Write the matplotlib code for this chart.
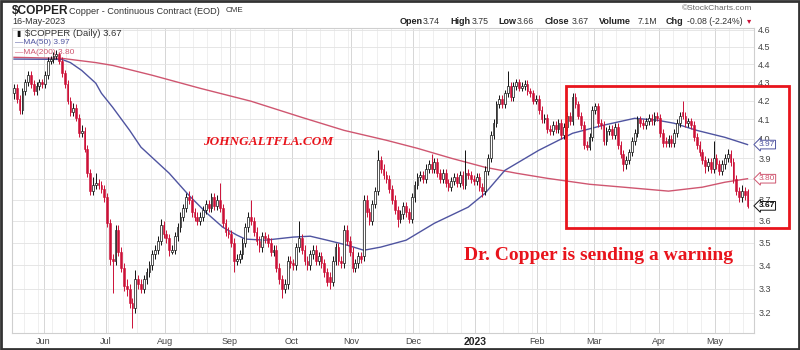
import numpy as np
import pandas as pd
import matplotlib
matplotlib.use("Agg")
import matplotlib.pyplot as plt
from matplotlib.patches import Rectangle
from matplotlib.ticker import FixedLocator, NullLocator

# --- daily candles, 17-May-2022 .. 16-May-2023 ---
dates = pd.bdate_range("2022-05-17", "2023-05-16")

close = [
    4.27, 4.21, 4.15, 4.25, 4.30, 4.34, 4.29, 4.25, 4.28, 4.30,
    4.29, 4.34, 4.42, 4.43, 4.45, 4.46, 4.42, 4.35, 4.29, 4.20,
    4.14, 4.16, 4.11, 4.03, 4.04, 3.95, 3.83, 3.74, 3.77, 3.78,
    3.77, 3.75, 3.71, 3.59, 3.43, 3.42, 3.56, 3.46, 3.39, 3.31,
    3.30, 3.24, 3.22, 3.34, 3.32, 3.30, 3.34, 3.37, 3.40, 3.45,
    3.47, 3.51, 3.58, 3.54, 3.52, 3.47, 3.47, 3.53, 3.57, 3.62,
    3.66, 3.71, 3.70, 3.64, 3.62, 3.60, 3.62, 3.65, 3.68, 3.66,
    3.71, 3.67, 3.70, 3.66, 3.59, 3.55, 3.54, 3.50, 3.42, 3.43,
    3.45, 3.50, 3.57, 3.62, 3.60, 3.55, 3.51, 3.48, 3.53, 3.52,
    3.50, 3.46, 3.47, 3.39, 3.34, 3.30, 3.32, 3.42, 3.41, 3.40,
    3.48, 3.52, 3.47, 3.42, 3.40, 3.45, 3.47, 3.42, 3.44, 3.41,
    3.37, 3.33, 3.33, 3.42, 3.48, 3.42, 3.41, 3.56, 3.51, 3.46,
    3.39, 3.41, 3.44, 3.43, 3.70, 3.64, 3.60, 3.68, 3.74, 3.89,
    3.85, 3.82, 3.80, 3.75, 3.70, 3.65, 3.61, 3.63, 3.67, 3.64,
    3.61, 3.71, 3.77, 3.81, 3.82, 3.80, 3.85, 3.87, 3.85, 3.88,
    3.83, 3.80, 3.83, 3.78, 3.76, 3.79, 3.81, 3.78, 3.82, 3.77,
    3.83, 3.82, 3.80, 3.79, 3.81, 3.76, 3.74, 3.84, 3.90, 4.02,
    4.08, 4.18, 4.21, 4.18, 4.24, 4.28, 4.22, 4.28, 4.30, 4.27,
    4.28, 4.29, 4.25, 4.24, 4.20, 4.21, 4.15, 4.10, 4.11, 4.05,
    4.04, 4.07, 4.05, 4.08, 4.02, 4.06, 4.12, 4.09, 4.22, 4.18,
    4.12, 4.07, 3.97, 3.96, 4.01, 4.15, 4.17, 4.08, 4.07, 3.99,
    4.04, 4.05, 4.02, 4.06, 3.97, 3.92, 3.87, 3.89, 3.93, 3.99,
    4.03, 4.10, 4.08, 4.07, 4.09, 4.11, 4.09, 4.12, 4.11, 4.03,
    3.98, 3.98, 4.00, 3.98, 4.03, 4.08, 4.12, 4.12, 4.08, 4.09,
    4.07, 4.01, 3.97, 3.93, 3.89, 3.86, 3.88, 3.85, 3.90, 3.87,
    3.84, 3.87, 3.90, 3.92, 3.88, 3.80, 3.74, 3.71, 3.74, 3.72, 3.67,
]

opens = [
    4.24, 4.27, 4.21, 4.15, 4.25, 4.30, 4.34, 4.29, 4.25, 4.28,
    4.30, 4.29, 4.34, 4.42, 4.43, 4.45, 4.46, 4.42, 4.35, 4.29,
    4.20, 4.14, 4.16, 4.11, 4.03, 4.04, 3.95, 3.83, 3.74, 3.77,
    3.78, 3.77, 3.75, 3.71, 3.59, 3.43, 3.42, 3.56, 3.46, 3.39,
    3.31, 3.30, 3.24, 3.22, 3.34, 3.32, 3.30, 3.34, 3.37, 3.40,
    3.45, 3.47, 3.51, 3.58, 3.54, 3.52, 3.46, 3.47, 3.53, 3.57,
    3.62, 3.66, 3.71, 3.70, 3.64, 3.62, 3.60, 3.62, 3.65, 3.68,
    3.66, 3.71, 3.67, 3.70, 3.66, 3.59, 3.55, 3.54, 3.50, 3.42,
    3.43, 3.45, 3.50, 3.57, 3.62, 3.60, 3.55, 3.51, 3.48, 3.53,
    3.52, 3.50, 3.46, 3.47, 3.39, 3.34, 3.30, 3.32, 3.42, 3.41,
    3.40, 3.48, 3.52, 3.47, 3.42, 3.40, 3.45, 3.47, 3.42, 3.44,
    3.41, 3.37, 3.35, 3.33, 3.42, 3.48, 3.42, 3.41, 3.56, 3.51,
    3.46, 3.39, 3.41, 3.44, 3.44, 3.70, 3.64, 3.60, 3.68, 3.74,
    3.89, 3.85, 3.82, 3.80, 3.75, 3.70, 3.65, 3.61, 3.63, 3.67,
    3.64, 3.61, 3.71, 3.77, 3.81, 3.82, 3.80, 3.85, 3.87, 3.85,
    3.88, 3.83, 3.80, 3.83, 3.78, 3.76, 3.79, 3.81, 3.78, 3.82,
    3.77, 3.83, 3.82, 3.80, 3.79, 3.81, 3.76, 3.74, 3.84, 3.90,
    4.02, 4.08, 4.18, 4.21, 4.18, 4.24, 4.28, 4.22, 4.28, 4.30,
    4.27, 4.28, 4.29, 4.25, 4.24, 4.20, 4.21, 4.15, 4.10, 4.11,
    4.05, 4.04, 4.07, 4.05, 4.08, 4.02, 4.06, 4.12, 4.09, 4.22,
    4.18, 4.12, 4.07, 3.97, 3.96, 4.01, 4.15, 4.17, 4.08, 4.07,
    3.99, 4.04, 4.05, 4.02, 4.06, 3.97, 3.92, 3.87, 3.89, 3.93,
    3.99, 4.03, 4.10, 4.08, 4.07, 4.09, 4.11, 4.09, 4.12, 4.11,
    4.03, 3.99, 3.98, 4.00, 3.98, 4.03, 4.08, 4.14, 4.12, 4.08,
    4.09, 4.07, 4.01, 3.97, 3.93, 3.89, 3.86, 3.88, 3.85, 3.90,
    3.87, 3.84, 3.87, 3.90, 3.92, 3.88, 3.80, 3.74, 3.71, 3.74, 3.74,
]

high = [
    4.29, 4.29, 4.23, 4.27, 4.32, 4.36, 4.36, 4.31, 4.30, 4.32,
    4.32, 4.36, 4.44, 4.45, 4.47, 4.48, 4.47, 4.44, 4.37, 4.31,
    4.22, 4.19, 4.18, 4.13, 4.07, 4.06, 3.97, 3.85, 3.81, 3.83,
    3.80, 3.79, 3.77, 3.73, 3.61, 3.45, 3.58, 3.58, 3.48, 3.41,
    3.34, 3.32, 3.26, 3.38, 3.36, 3.34, 3.36, 3.39, 3.42, 3.47,
    3.49, 3.53, 3.61, 3.60, 3.56, 3.54, 3.49, 3.55, 3.59, 3.64,
    3.68, 3.73, 3.74, 3.72, 3.66, 3.64, 3.64, 3.67, 3.70, 3.70,
    3.73, 3.73, 3.72, 3.78, 3.68, 3.61, 3.57, 3.56, 3.52, 3.45,
    3.47, 3.52, 3.59, 3.64, 3.70, 3.62, 3.57, 3.53, 3.55, 3.55,
    3.54, 3.52, 3.49, 3.49, 3.41, 3.36, 3.34, 3.44, 3.44, 3.43,
    3.50, 3.60, 3.54, 3.49, 3.44, 3.47, 3.49, 3.49, 3.46, 3.46,
    3.43, 3.39, 3.37, 3.44, 3.50, 3.50, 3.44, 3.58, 3.58, 3.53,
    3.48, 3.43, 3.46, 3.46, 3.72, 3.72, 3.66, 3.70, 3.76, 3.94,
    3.91, 3.87, 3.84, 3.82, 3.77, 3.72, 3.67, 3.65, 3.69, 3.69,
    3.66, 3.73, 3.79, 3.83, 3.84, 3.84, 3.87, 3.89, 3.92, 3.90,
    3.90, 3.85, 3.85, 3.85, 3.80, 3.81, 3.83, 3.83, 3.84, 3.84,
    3.94, 3.85, 3.84, 3.82, 3.83, 3.83, 3.78, 3.86, 3.92, 4.04,
    4.10, 4.20, 4.23, 4.23, 4.26, 4.36, 4.30, 4.30, 4.32, 4.32,
    4.30, 4.31, 4.31, 4.27, 4.26, 4.23, 4.23, 4.17, 4.13, 4.13,
    4.07, 4.09, 4.09, 4.10, 4.10, 4.08, 4.14, 4.14, 4.24, 4.24,
    4.20, 4.14, 4.09, 3.99, 4.03, 4.17, 4.19, 4.19, 4.10, 4.09,
    4.06, 4.07, 4.07, 4.08, 4.08, 3.99, 3.94, 3.91, 3.95, 4.01,
    4.05, 4.12, 4.12, 4.10, 4.11, 4.13, 4.13, 4.14, 4.14, 4.13,
    4.05, 4.01, 4.02, 4.02, 4.05, 4.10, 4.14, 4.20, 4.14, 4.11,
    4.11, 4.09, 4.03, 3.99, 3.95, 3.91, 3.90, 3.90, 3.99, 3.92,
    3.89, 3.89, 3.92, 3.95, 3.94, 3.90, 3.82, 3.76, 3.77, 3.76, 3.75,
]

low = [
    4.21, 4.19, 4.13, 4.13, 4.23, 4.28, 4.27, 4.23, 4.23, 4.26,
    4.27, 4.27, 4.32, 4.40, 4.41, 4.43, 4.40, 4.33, 4.27, 4.18,
    4.12, 4.12, 4.09, 4.01, 4.01, 3.93, 3.81, 3.72, 3.72, 3.75,
    3.75, 3.73, 3.69, 3.57, 3.40, 3.28, 3.40, 3.44, 3.37, 3.29,
    3.27, 3.22, 3.14, 3.20, 3.30, 3.28, 3.28, 3.32, 3.35, 3.38,
    3.43, 3.45, 3.49, 3.52, 3.50, 3.44, 3.45, 3.45, 3.51, 3.55,
    3.60, 3.64, 3.68, 3.62, 3.60, 3.58, 3.58, 3.60, 3.63, 3.64,
    3.64, 3.65, 3.65, 3.64, 3.57, 3.53, 3.52, 3.48, 3.37, 3.40,
    3.41, 3.43, 3.48, 3.55, 3.58, 3.53, 3.49, 3.46, 3.46, 3.50,
    3.48, 3.44, 3.44, 3.37, 3.32, 3.26, 3.28, 3.30, 3.39, 3.38,
    3.38, 3.46, 3.45, 3.40, 3.38, 3.38, 3.43, 3.40, 3.40, 3.39,
    3.35, 3.31, 3.30, 3.31, 3.40, 3.40, 3.39, 3.39, 3.49, 3.44,
    3.37, 3.37, 3.39, 3.41, 3.42, 3.62, 3.58, 3.58, 3.66, 3.72,
    3.83, 3.80, 3.78, 3.73, 3.68, 3.63, 3.57, 3.59, 3.61, 3.62,
    3.59, 3.59, 3.69, 3.75, 3.79, 3.78, 3.78, 3.83, 3.83, 3.83,
    3.81, 3.78, 3.78, 3.76, 3.74, 3.74, 3.77, 3.76, 3.76, 3.75,
    3.75, 3.80, 3.78, 3.77, 3.77, 3.74, 3.71, 3.72, 3.82, 3.88,
    4.00, 4.06, 4.16, 4.16, 4.16, 4.22, 4.20, 4.20, 4.26, 4.25,
    4.25, 4.26, 4.23, 4.22, 4.18, 4.18, 4.13, 4.08, 4.08, 4.03,
    4.02, 4.02, 4.03, 4.03, 4.00, 4.00, 4.04, 4.07, 4.07, 4.16,
    4.10, 4.05, 3.95, 3.94, 3.94, 3.99, 4.13, 4.06, 4.05, 3.97,
    3.97, 4.02, 4.00, 4.00, 3.95, 3.90, 3.84, 3.85, 3.87, 3.91,
    3.97, 4.01, 4.06, 4.05, 4.05, 4.07, 4.07, 4.07, 4.09, 4.01,
    3.96, 3.96, 3.96, 3.96, 3.96, 4.01, 4.06, 4.10, 4.06, 4.06,
    4.05, 3.99, 3.95, 3.91, 3.87, 3.83, 3.84, 3.83, 3.83, 3.85,
    3.82, 3.82, 3.85, 3.88, 3.86, 3.78, 3.72, 3.69, 3.69, 3.70, 3.66,
]

# moving averages, read at a handful of dates along each line
ma50_dates = ["2022-05-17", "2022-06-09", "2022-06-14", "2022-06-20", "2022-06-27",
              "2022-06-29", "2022-07-05", "2022-07-13", "2022-07-19", "2022-08-02",
              "2022-08-11", "2022-08-19", "2022-08-29", "2022-09-05", "2022-09-08",
              "2022-09-19", "2022-10-03", "2022-10-11", "2022-10-19", "2022-10-28",
              "2022-11-07", "2022-11-15", "2022-11-28", "2022-12-12", "2022-12-28",
              "2023-01-05", "2023-01-16", "2023-02-01", "2023-02-17", "2023-03-06",
              "2023-03-21", "2023-03-31", "2023-04-10", "2023-04-20", "2023-05-04",
              "2023-05-16"]
ma50 = [4.43, 4.428, 4.41, 4.366, 4.295, 4.24, 4.164, 4.043, 3.957, 3.827,
        3.72, 3.64, 3.571, 3.535, 3.517, 3.512, 3.526, 3.53, 3.512, 3.49,
        3.467, 3.481, 3.512, 3.589, 3.664, 3.73, 3.841, 3.941, 4.028, 4.07,
        4.106, 4.096, 4.08, 4.043, 4.007, 3.97]

ma200_dates = ["2022-05-17", "2022-06-09", "2022-06-27", "2022-07-05", "2022-07-25",
               "2022-08-17", "2022-09-12", "2022-10-06", "2022-10-27", "2022-11-17",
               "2022-12-02", "2022-12-20", "2023-01-05", "2023-01-20", "2023-02-06",
               "2023-02-27", "2023-03-15", "2023-04-06", "2023-04-24", "2023-05-04",
               "2023-05-16"]
ma200 = [4.44, 4.434, 4.41, 4.394, 4.339, 4.267, 4.197, 4.111, 4.043, 3.992,
         3.951, 3.901, 3.856, 3.827, 3.802, 3.773, 3.759, 3.74, 3.759, 3.783, 3.80]

month_names = ["Jun", "Jul", "Aug", "Sep", "Oct", "Nov", "Dec", "2023",
               "Feb", "Mar", "Apr", "May"]
price_ticks = [3.2, 3.3, 3.4, 3.5, 3.6, 3.7, 3.8, 3.9, 4.0, 4.1, 4.2, 4.3, 4.4, 4.5, 4.6]

RED = "#cc1138"
BLUE = "#4f54a0"
PINK = "#cf5670"
FONT = ["Liberation Sans", "DejaVu Sans"]
plt.rcParams["font.family"] = FONT

fig = plt.figure(figsize=(8, 3.5), dpi=100)
W, H = 800, 350


def fpos(x, y):
    return x / W, 1 - y / H


ax = fig.add_axes([12 / W, 1 - 333 / H, (754 - 12) / W, (333 - 28) / H])
ax.set_yscale("log")
ax.set_ylim(3.118, 4.61)
ax.set_xlim(-0.7, len(dates) + 1.3)

x = np.arange(len(dates))
o = np.array(opens)
c = np.array(close)
up = c >= o
cols = np.where(up, "#111111", RED)

# grid: weekly light lines, month lines a bit darker
mondays = x[dates.dayofweek == 0]
for m in mondays:
    ax.axvline(m - 0.5, color="#ececec", lw=0.6, zorder=0)
month_start = [x[(dates.year == y) & (dates.month == mo)][0]
               for y, mo in [(2022, 6), (2022, 7), (2022, 8), (2022, 9), (2022, 10),
                             (2022, 11), (2022, 12), (2023, 1), (2023, 2), (2023, 3),
                             (2023, 4), (2023, 5)]]
for m in month_start:
    ax.axvline(m - 0.5, color="#d6d6d6", lw=0.7, zorder=0)
for p in price_ticks:
    ax.axhline(p, color="#e2e2e2", lw=0.6, zorder=0)

# moving averages
ma50_x = dates.get_indexer(pd.to_datetime(ma50_dates))
ma200_x = dates.get_indexer(pd.to_datetime(ma200_dates))
ax.plot(ma200_x, ma200, color=PINK, lw=1.0, zorder=2)
ax.plot(ma50_x, ma50, color=BLUE, lw=1.0, zorder=2)

# candles
ax.vlines(x, low, high, colors=cols, lw=0.7, zorder=3)
body_lo = np.minimum(o, c)
body_h = np.maximum(np.abs(c - o), 0.004)
ax.bar(x[~up], body_h[~up], bottom=body_lo[~up], width=0.62,
       color=RED, edgecolor=RED, lw=0.4, zorder=4)
ax.bar(x[up], body_h[up], bottom=body_lo[up], width=0.62,
       color="white", edgecolor="#111111", lw=0.5, zorder=4)

# axes
ax.yaxis.tick_right()
ax.yaxis.set_major_locator(FixedLocator(price_ticks))
ax.yaxis.set_minor_locator(NullLocator())
ax.set_yticklabels([f"{p:.1f}" for p in price_ticks])
ax.tick_params(axis="y", length=0, pad=3, labelsize=6.5, labelcolor="#444444")
ax.set_xticks([m - 0.5 for m in month_start])
ax.set_xticklabels(month_names)
ax.tick_params(axis="x", length=0, pad=3, labelsize=6.5, labelcolor="#444444")
ax.get_xticklabels()[7].set_fontweight("bold")
ax.get_xticklabels()[7].set_fontsize(7.5)
ax.get_xticklabels()[7].set_color("#222222")
for s in ax.spines.values():
    s.set_color("#cfcfcf")
    s.set_linewidth(0.8)

# last-value flags on the price axis
for val, ec, tc, bold in [(ma50[-1], BLUE, BLUE, "normal"),
                          (ma200[-1], PINK, PINK, "normal"),
                          (close[-1], "#111111", "#111111", "bold")]:
    ax.text(1.006, val, f"{val:.2f}", transform=ax.get_yaxis_transform(),
            ha="left", va="center", fontsize=6, color=tc, fontweight=bold,
            bbox=dict(boxstyle="larrow,pad=0.1", fc="white", ec=ec, lw=0.7),
            zorder=6, clip_on=False)

# in-chart legend
ax.text(0.006, 0.983, "\u25AE", transform=ax.transAxes, fontsize=5.5, color="#111111",
        va="center", ha="left", family=["DejaVu Sans"])
ax.text(0.018, 0.983, "\\$COPPER (Daily) 3.67", transform=ax.transAxes, fontsize=6.8,
        va="center", ha="left", color="#333333")
ax.text(0.004, 0.951, "\u2014MA(50) 3.97", transform=ax.transAxes, fontsize=6,
        va="center", ha="left", color=BLUE)
ax.text(0.004, 0.921, "\u2014MA(200) 3.80", transform=ax.transAxes, fontsize=6,
        va="center", ha="left", color=PINK)

# header
fig.text(*fpos(12, 11), "\\$COPPER", fontsize=8.6, fontweight="bold",
         va="center", ha="left", color="#222222")
fig.text(*fpos(69, 11), "Copper - Continuous Contract (EOD)", fontsize=6.6,
         va="center", ha="left", color="#333333")
fig.text(*fpos(226, 11), "CME", fontsize=5.8, va="center", ha="left", color="#333333")
fig.text(*fpos(12, 22), "16-May-2023", fontsize=6.5, va="center", ha="left",
         color="#333333")
fig.text(*fpos(752, 9), "\u00a9StockCharts.com", fontsize=6, va="center",
         ha="right", color="#666666")
hdr = [(400, "Open", True), (423, "3.74", False), (450, "High", True),
       (472, "3.75", False), (498, "Low", True), (517, "3.66", False),
       (545, "Close", True), (572, "3.67", False), (599, "Volume", True),
       (638, "7.1M", False), (666, "Chg", True), (687, "-0.08 (-2.24%)", False)]
for hx, t, b in hdr:
    fig.text(*fpos(hx, 21), t, fontsize=6.5 if b else 6.3,
             fontweight="bold" if b else "normal", va="center", ha="left",
             color="#222222" if b else "#333333")
fig.text(*fpos(747, 21), "\u25BE", fontsize=6, va="center", ha="left", color=RED,
         family=["DejaVu Sans"])

# annotations
fig.text(*fpos(268, 142), "JOHNGALTFLA.COM", fontsize=9.5, fontweight="bold",
         style="italic", family=["Liberation Serif", "DejaVu Serif"],
         color="#e8141c", ha="center", va="center")
fig.text(*fpos(599, 255), "Dr. Copper is sending a warning", fontsize=14,
         fontweight="bold", family=["Liberation Serif", "DejaVu Serif"],
         color="#e8141c", ha="center", va="center")
fig.patches.append(Rectangle(fpos(566, 228), (789 - 566) / W, (228 - 86) / H,
                             transform=fig.transFigure, fill=False,
                             ec="#e8141c", lw=2.0, zorder=10))
fig.patches.append(Rectangle((0.0015, 0.003), 0.997, 0.994, transform=fig.transFigure,
                             fill=False, ec="#333333", lw=2.0, zorder=10))

fig.savefig("out.png", dpi=100)
